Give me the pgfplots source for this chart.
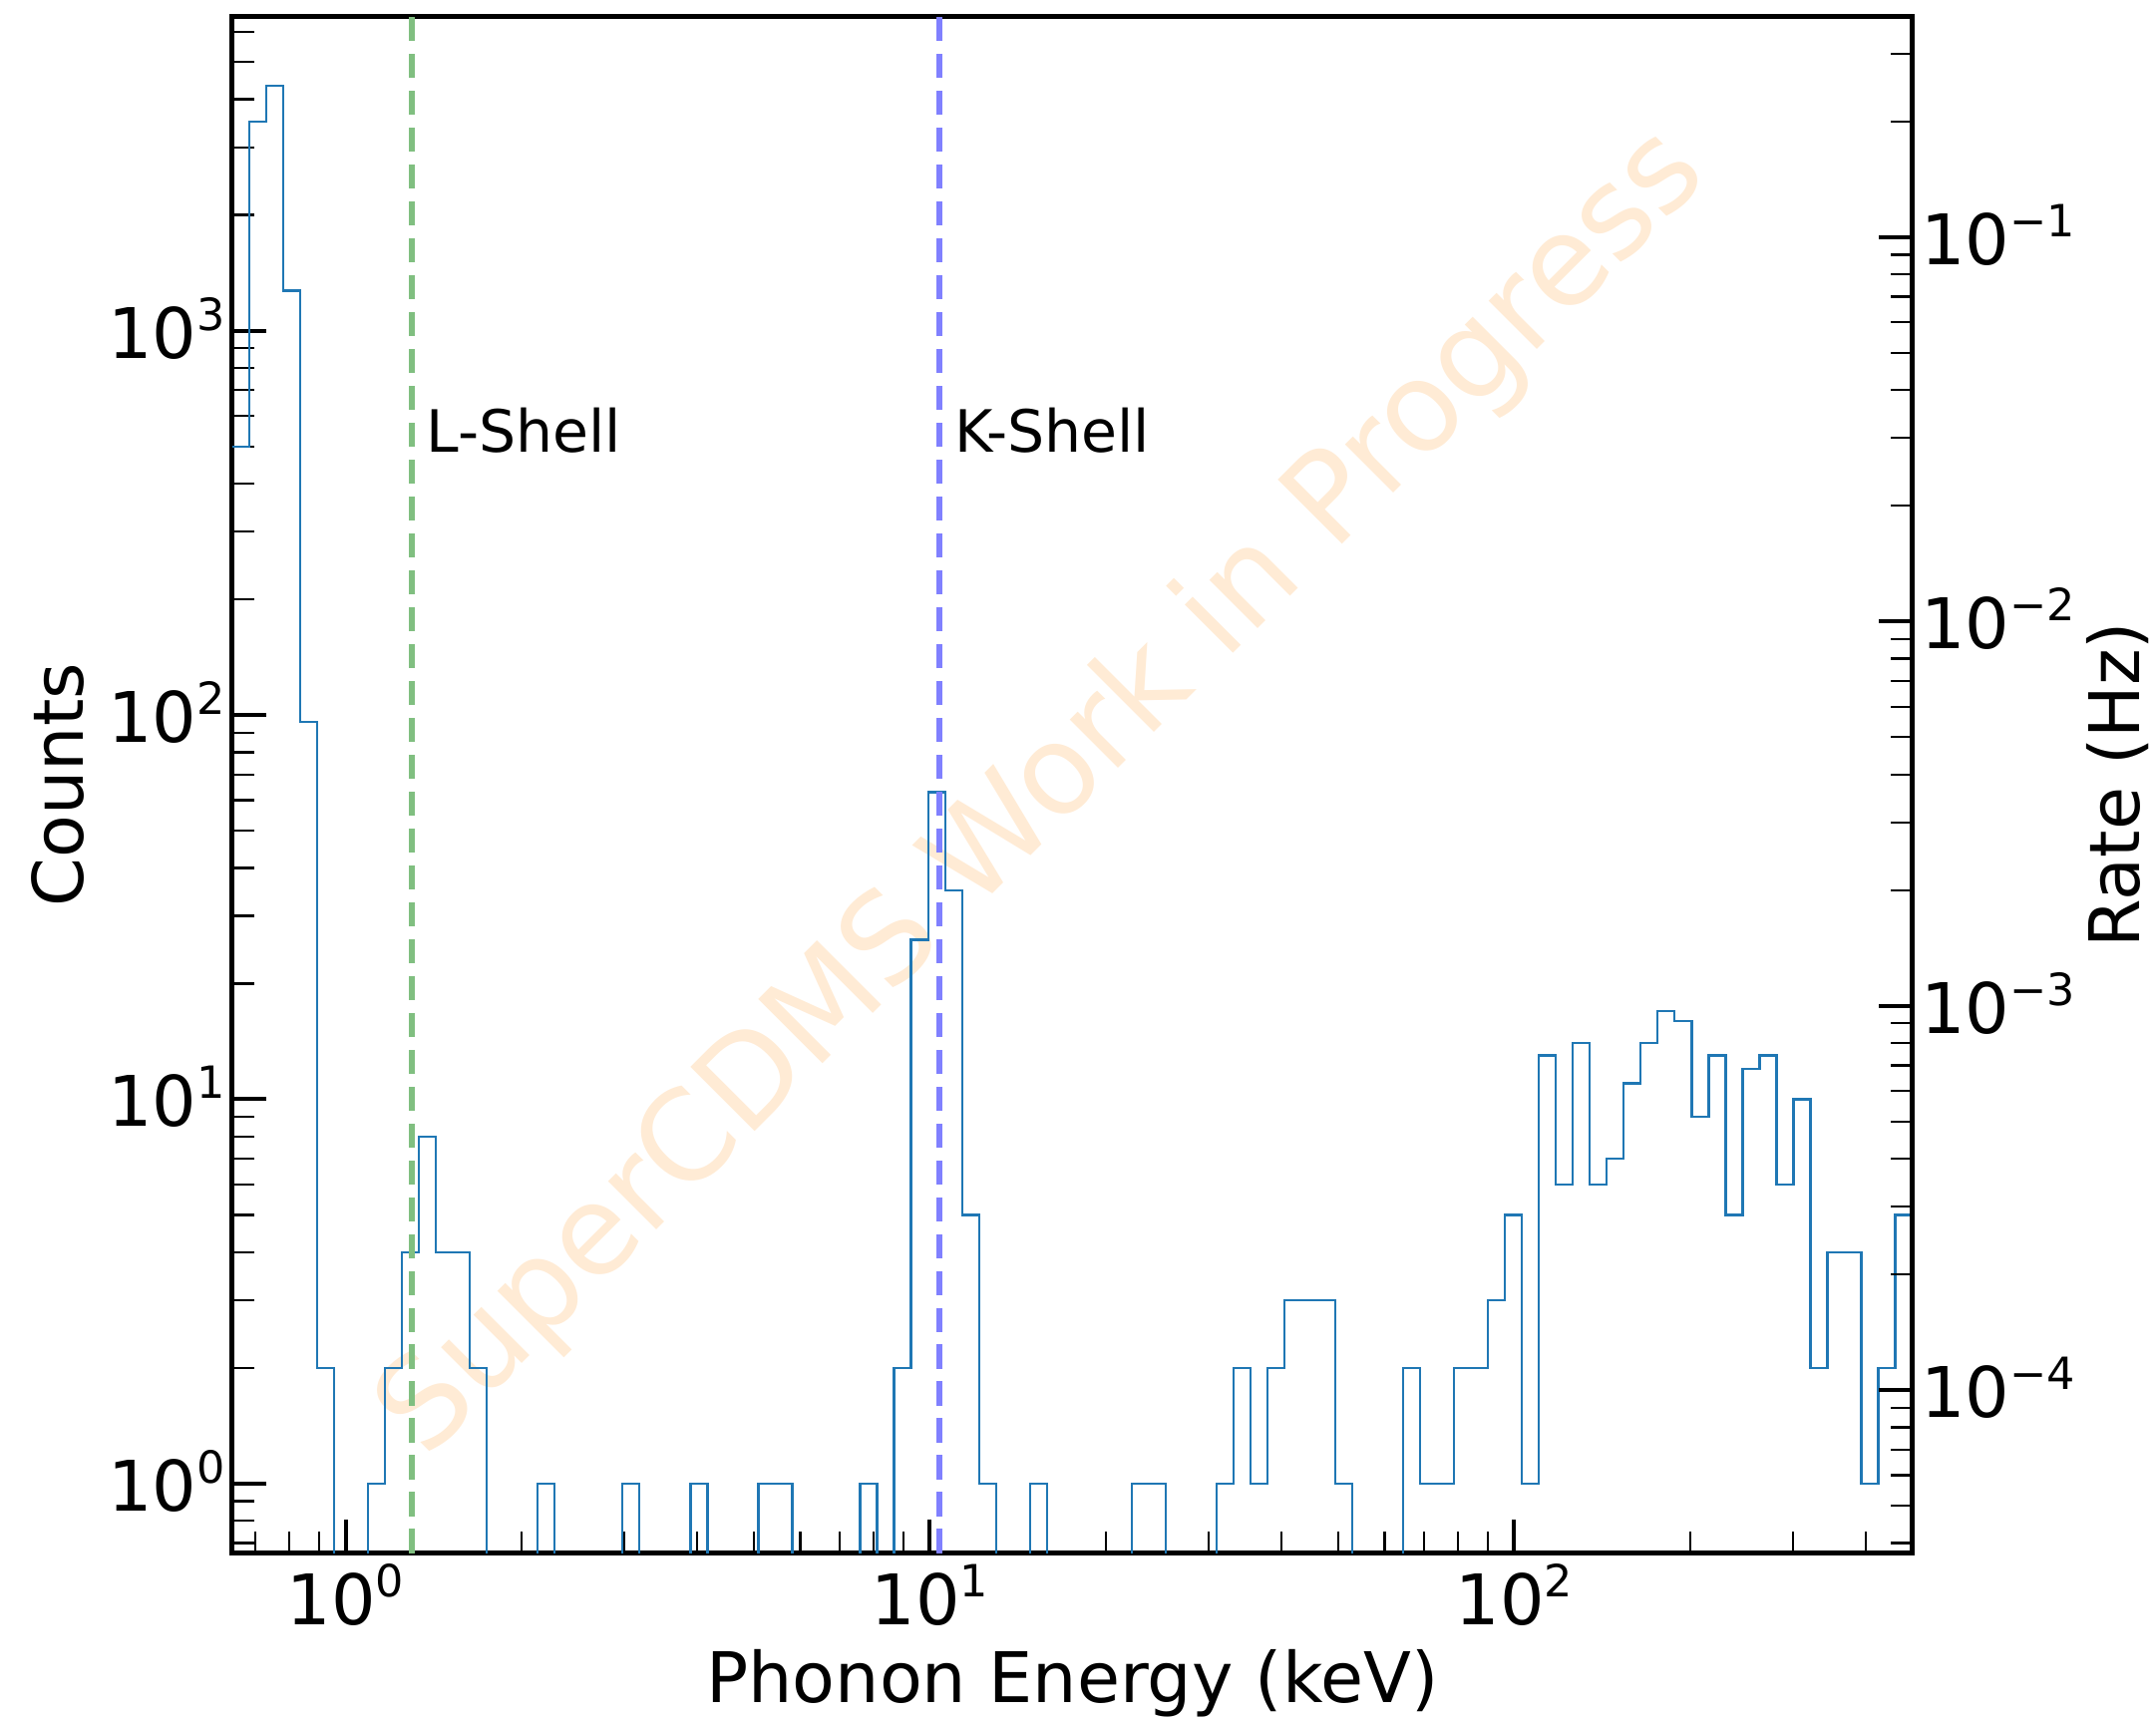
\documentclass[border=0pt]{standalone}
\usepackage{fontspec}
\setmainfont{DejaVu Sans}
\usepackage{pgfplots}
\pgfplotsset{compat=1.18}
\definecolor{histblue}{RGB}{31,119,180}
\definecolor{lgreen}{RGB}{128,191,128}
\definecolor{kblue}{RGB}{128,128,255}
\definecolor{wmark}{RGB}{255,235,213}
\newcommand{\sups}[1]{\raisebox{5.6pt}{\fontsize{8.9}{10}\selectfont #1}}
\begin{document}
\begin{tikzpicture}
\begin{axis}[at={(0,0)}, anchor=south west,
  scale only axis, width=337pt, height=308.4pt,
  xmode=log, ymode=log, xmin=0.64, xmax=479.91,
  ymin=0.658, ymax=6580,
  major tick length=6.8pt, minor tick length=4.4pt,
  every major tick/.append style={line width=0.8pt, black},
  every minor tick/.append style={line width=0.45pt, black},
  axis line style={line width=1pt},
  tick label style={font=\fontsize{14}{16}\selectfont},
  every axis label/.append style={font=\fontsize{14}{16}\selectfont},
  xtick={1,10,100}, xticklabels={10\sups{0},10\sups{1},10\sups{2}},
  minor xtick={0.7,0.8,0.9,2,3,4,5,6,7,8,9,20,30,40,50,60,70,80,90,200,300,400},
  ytick={1,10,100,1000}, yticklabels={10\sups{0},10\sups{1},10\sups{2},10\sups{3}},
  minor ytick={0.7,0.8,0.9,2,3,4,5,6,7,8,9,20,30,40,50,60,70,80,90,200,300,400,500,600,700,800,900,2000,3000,4000,5000,6000},
  xtick pos=bottom, ytick pos=left, tick align=inside,
  xticklabel style={anchor=base, inner sep=0pt, yshift=-14.4pt},
  yticklabel style={anchor=base east, inner sep=0pt, xshift=-1.3pt, yshift=-5.5pt},
  xlabel={Phonon Energy (keV)}, ylabel={Counts},
  xlabel style={at={(axis description cs:0.5,-0.0973)}, anchor=base},
  ylabel style={at={(axis description cs:-0.1039,0.5)}, anchor=center},
]
\node[rotate=45, text=wmark, font=\fontsize{25}{30}\selectfont] at (axis description cs:0.483,0.494) {SuperCDMS Work in Progress};
\addplot[const plot mark left, histblue, line width=0.45pt, no marks] coordinates {
(0.6400,500) (0.6843,3500) (0.7316,4330) (0.7822,1270) (0.8363,96)
(0.8942,2) (0.9560,0.01) (1.0221,0.01) (1.0928,1) (1.1683,2)
(1.2491,4) (1.3355,8) (1.4279,4) (1.5266,4) (1.6321,2)
(1.7450,0.01) (1.8657,0.01) (1.9947,0.01) (2.1326,1) (2.2801,0.01)
(2.4378,0.01) (2.6064,0.01) (2.7867,0.01) (2.9794,1) (3.1854,0.01)
(3.4057,0.01) (3.6412,0.01) (3.8930,1) (4.1622,0.01) (4.4500,0.01)
(4.7578,0.01) (5.0868,1) (5.4386,1) (5.8147,0.01) (6.2168,0.01)
(6.6467,0.01) (7.1064,0.01) (7.5979,1) (8.1233,0.01) (8.6851,2)
(9.2857,26) (9.9275,63) (10.614,35) (11.348,5) (12.133,1)
(12.972,0.01) (13.869,0.01) (14.828,1) (15.853,0.01) (16.950,0.01)
(18.122,0.01) (19.375,0.01) (20.715,0.01) (22.148,1) (23.679,1)
(25.317,0.01) (27.068,0.01) (28.940,0.01) (30.941,1) (33.081,2)
(35.369,1) (37.815,2) (40.430,3) (43.226,3) (46.216,3)
(49.412,1) (52.829,0.01) (56.482,0.01) (60.388,0.01) (64.565,2)
(69.024,1) (73.798,1) (78.902,2) (84.359,2) (90.193,3)
(96.427,5) (103.10,1) (110.23,13) (117.85,6) (126.00,14)
(134.72,6) (144.03,7) (153.99,11) (164.64,14) (176.03,17)
(188.20,16) (201.22,9) (215.13,13) (230.01,5) (245.92,12)
(262.93,13) (281.11,6) (300.55,10) (321.34,2) (343.56,4)
(367.28,4) (392.68,1) (419.84,2) (448.87,5) (479.91,5)
};
\addplot[lgreen, line width=1.2pt, dash pattern=on 4.9pt off 2.5pt] coordinates {(1.30,0.658) (1.30,6580)};
\addplot[kblue, line width=1.2pt, dash pattern=on 4.9pt off 2.5pt] coordinates {(10.37,0.658) (10.37,6580)};
\node[anchor=base west, inner sep=0pt, font=\fontsize{11.7}{14}\selectfont] at (axis cs:1.37,484) {L-Shell};
\node[anchor=base west, inner sep=0pt, font=\fontsize{11.7}{14}\selectfont] at (axis cs:10.97,484) {K-Shell};
\coordinate (SW) at (rel axis cs:0,0);
\coordinate (NE) at (rel axis cs:1,1);
\end{axis}
\begin{axis}[at={(0,0)}, anchor=south west,
  scale only axis, width=337pt, height=308.4pt,
  xmode=log, ymode=log, xmin=0.64, xmax=479.91,
  ymin=3.757e-5, ymax=0.3757,
  major tick length=6.8pt, minor tick length=4.4pt,
  every major tick/.append style={line width=0.8pt, black},
  every minor tick/.append style={line width=0.45pt, black},
  axis line style={line width=1pt},
  tick label style={font=\fontsize{14}{16}\selectfont},
  every axis label/.append style={font=\fontsize{14}{16}\selectfont},
  hide x axis, axis y line*=right, ytick pos=right, tick align=inside,
  ytick={1e-4,1e-3,1e-2,1e-1}, yticklabels={10\sups{−4},10\sups{−3},10\sups{−2},10\sups{−1}},
  minor ytick={4e-5,5e-5,6e-5,7e-5,8e-5,9e-5,2e-4,3e-4,4e-4,5e-4,6e-4,7e-4,8e-4,9e-4,2e-3,3e-3,4e-3,5e-3,6e-3,7e-3,8e-3,9e-3,2e-2,3e-2,4e-2,5e-2,6e-2,7e-2,8e-2,9e-2,0.2,0.3},
  yticklabel style={anchor=base west, inner sep=0pt, xshift=1.5pt, yshift=-5.5pt},
  ylabel={Rate (Hz)},
  ylabel style={at={(axis description cs:1.122,0.5)}, anchor=center},
]
\addplot[draw=none] coordinates {(1,1e-3)};
\end{axis}
\pgfresetboundingbox
\path[use as bounding box] ([shift={(-46.6pt,-33.3pt)}]SW) rectangle ([shift={(48.9pt,3.26pt)}]NE);
\end{tikzpicture}
\end{document}
